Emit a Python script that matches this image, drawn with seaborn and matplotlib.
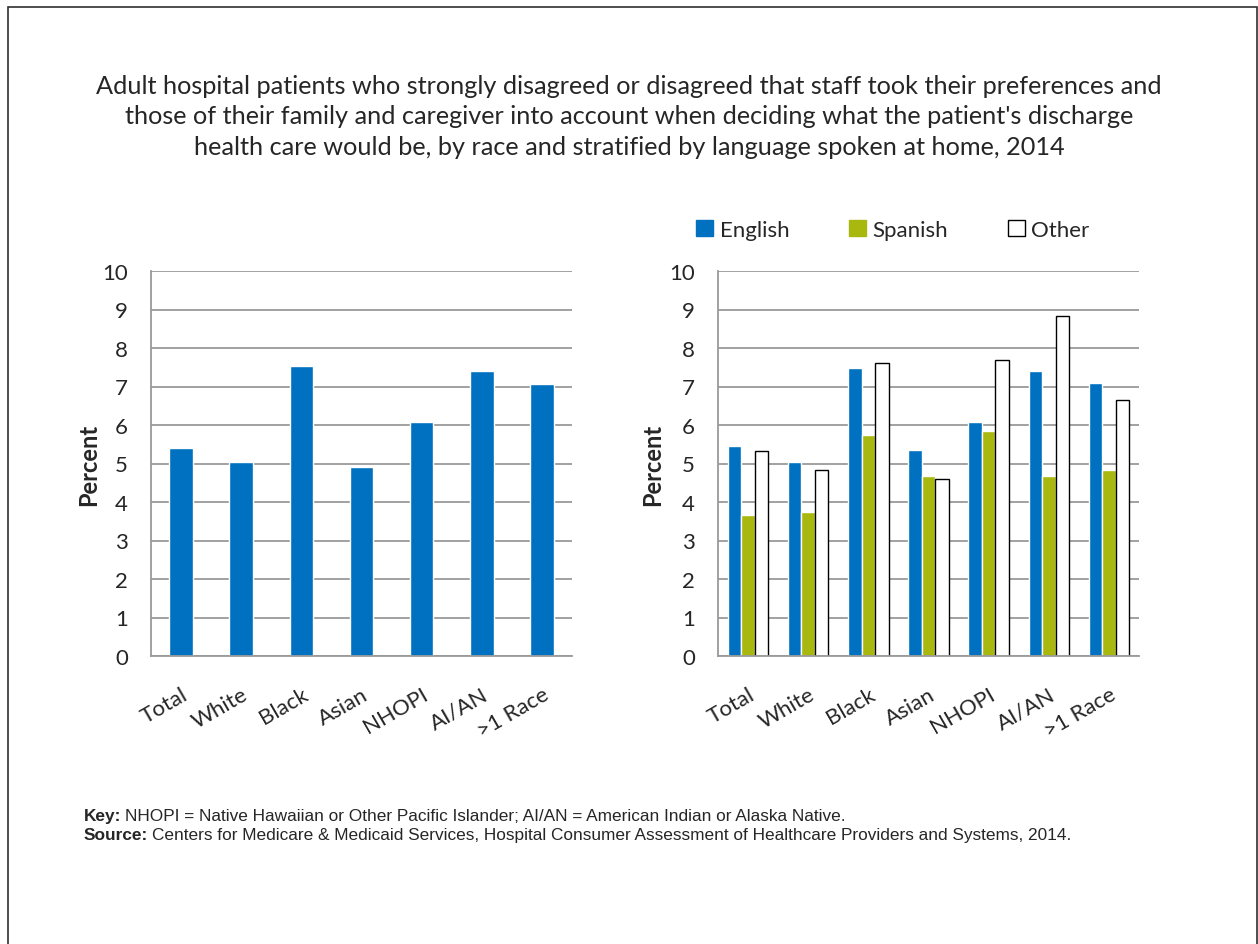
"""Discharge preferences chart: patients who disagreed that staff took preferences into account, 2014."""

import matplotlib
import pandas as pd
import seaborn as sns

matplotlib.use("Agg")
import matplotlib.pyplot as plt
from matplotlib.patches import Patch, Rectangle

RACES = ["Total", "White", "Black", "Asian", "NHOPI", "AI/AN", ">1 Race"]
OVERALL = [5.41, 5.03, 7.53, 4.92, 6.09, 7.40, 7.07]

LANGUAGES = ["English", "Spanish", "Other"]
ENGLISH = [5.45, 5.05, 7.49, 5.36, 6.08, 7.40, 7.09]
SPANISH = [3.67, 3.73, 5.75, 4.68, 5.85, 4.68, 4.83]
OTHER = [5.32, 4.84, 7.60, 4.61, 7.70, 8.83, 6.66]

Y_TICKS = list(range(0, 11))

TITLE = (
    "Adult hospital patients who strongly disagreed or disagreed that staff took their preferences and\n"
    "those of their family and caregiver into account when deciding what the patient's discharge\n"
    "health care would be, by race and stratified by language spoken at home, 2014"
)
FOOTNOTES = [
    ("Key:", "NHOPI = Native Hawaiian or Other Pacific Islander; AI/AN = American Indian or Alaska Native."),
    (
        "Source:",
        "Centers for Medicare & Medicaid Services, Hospital Consumer Assessment of Healthcare Providers and Systems, 2014.",
    ),
]

BLUE = "#0070C0"
GREEN = "#A8B80E"
GRID = "#9A9A9A"
FONT = ["Lato", "DejaVu Sans"]
W, H = 1258, 945


def style_axis(ax: plt.Axes, label_x: float) -> None:
    ax.set_ylim(0, 10)
    ax.set_xlim(-0.5, len(RACES) - 0.5)
    ax.set_yticks(Y_TICKS)
    ax.yaxis.grid(True, color=GRID, linewidth=1.3)
    ax.set_axisbelow(True)
    for side in ["top", "right"]:
        ax.spines[side].set_visible(False)
    for side in ["left", "bottom"]:
        ax.spines[side].set_color(GRID)
        ax.spines[side].set_linewidth(1.3)
    ax.set_xticks(range(len(RACES)))
    ax.set_xticklabels(RACES, rotation=30, ha="right", rotation_mode="anchor", fontsize=16)
    ax.set_xticks([i - 0.5 for i in range(len(RACES) + 1)], minor=True)
    ax.tick_params(axis="x", which="major", length=0, pad=20)
    ax.tick_params(axis="x", which="minor", length=7, color=GRID, width=1.3, direction="out")
    ax.tick_params(axis="y", length=6.5, color=GRID, width=1.3, labelsize=16, pad=10)
    ax.set_xlabel("")
    ax.set_ylabel("Percent", fontsize=17, fontweight="bold")
    ax.yaxis.set_label_coords(label_x, 0.5)


def add_footnotes(fig: plt.Figure) -> None:
    renderer = fig.canvas.get_renderer()
    for (head, body), y_px in zip(FOOTNOTES, [821, 840]):
        y = 1 - y_px / H
        head_text = fig.text(84 / W, y, head, fontsize=12.4, fontweight="bold",
                             family="Liberation Sans", va="baseline")
        bbox = head_text.get_window_extent(renderer)
        fig.text((bbox.x1 + 4) / W, y, body, fontsize=12.4, family="Liberation Sans", va="baseline")


def main() -> None:
    sns.set_theme(style="white")
    plt.rcParams["font.family"] = FONT

    fig = plt.figure(figsize=(W / 100, H / 100), dpi=100)
    ax_left = fig.add_axes([151 / W, 1 - 657 / H, 421 / W, 385 / H])
    ax_right = fig.add_axes([718 / W, 1 - 657 / H, 421 / W, 385 / H])

    sns.barplot(x=RACES, y=OVERALL, color=BLUE, width=0.39, saturation=1, ax=ax_left)
    style_axis(ax_left, -0.121)

    long = pd.DataFrame(
        {
            "race": RACES * 3,
            "language": [lang for lang in LANGUAGES for _ in RACES],
            "percent": ENGLISH + SPANISH + OTHER,
        }
    )
    sns.barplot(
        data=long,
        x="race",
        y="percent",
        hue="language",
        order=RACES,
        hue_order=LANGUAGES,
        palette=[BLUE, GREEN, "white"],
        saturation=1,
        width=0.67,
        ax=ax_right,
    )
    for bar in ax_right.containers[2]:
        bar.set_edgecolor("black")
        bar.set_linewidth(1.0)
    ax_right.get_legend().remove()
    style_axis(ax_right, -0.128)

    handles = [
        Patch(facecolor=BLUE, edgecolor=BLUE),
        Patch(facecolor=GREEN, edgecolor=GREEN),
        Patch(facecolor="white", edgecolor="black"),
    ]
    fig.legend(
        handles,
        LANGUAGES,
        loc="center left",
        bbox_to_anchor=(0.5375, 1 - 231 / H),
        ncol=3,
        frameon=False,
        fontsize=16,
        handlelength=0.75,
        handleheight=0.75,
        handletextpad=0.3,
        columnspacing=2.7,
    )

    fig.text(0.5, 1 - 117 / H, TITLE, ha="center", va="center", fontsize=18.2, linespacing=1.38)

    add_footnotes(fig)

    fig.add_artist(
        Rectangle(
            (8 / W, -0.1),
            1 - 9 / W,
            1.1 - 8 / H,
            transform=fig.transFigure,
            fill=False,
            edgecolor="#303030",
            linewidth=1.2,
        )
    )

    fig.savefig("out.png", dpi=100)
    plt.close(fig)


if __name__ == "__main__":
    main()
